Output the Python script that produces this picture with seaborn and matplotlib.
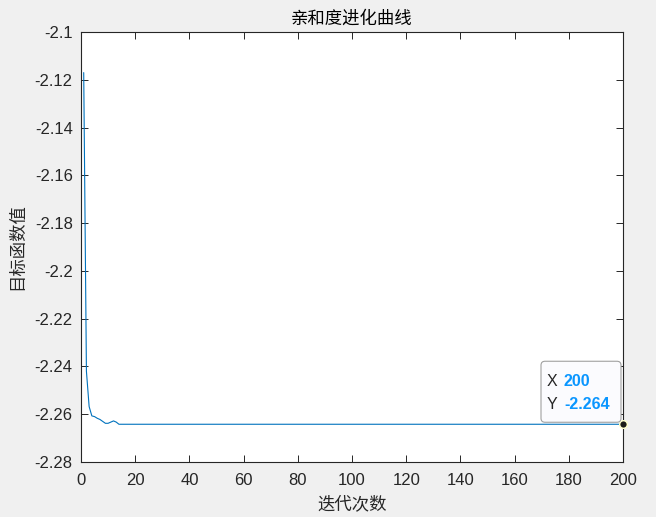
import numpy as np
import pandas as pd
import matplotlib
matplotlib.use("Agg")
import matplotlib.pyplot as plt
import seaborn as sns
from matplotlib.patches import FancyBboxPatch
from matplotlib.transforms import Affine2D

# steep early drop, then flat plateau
early_fitness = [-2.117, -2.242, -2.2568, -2.2607, -2.2610, -2.2617, -2.2622,
                 -2.2630, -2.2638, -2.2638, -2.2633, -2.2628, -2.2633, -2.2642]
plateau_value = -2.2642
n_iter = 200
fitness = early_fitness + [plateau_value] * (n_iter - len(early_fitness))
iterations = list(range(1, n_iter + 1))

x_ticks = list(range(0, 201, 20))
y_ticks = [-2.28, -2.26, -2.24, -2.22, -2.2, -2.18, -2.16, -2.14, -2.12, -2.1]

df = pd.DataFrame({"iter": iterations, "fitness": fitness})

sns.set_style("white")
plt.rcParams['font.family'] = ['Liberation Sans', 'Noto Sans CJK SC', 'DejaVu Sans']
plt.rcParams['axes.unicode_minus'] = False

fig = plt.figure(figsize=(6.56, 5.17), dpi=100, facecolor='#f0f0f0')
ax = fig.add_axes([81 / 656, 55 / 517, 542 / 656, 430 / 517])
ax.set_facecolor('white')

sns.lineplot(data=df, x="iter", y="fitness", ax=ax, color='#0072BD', linewidth=0.8)

ax.set_xlim(0, 200)
ax.set_ylim(-2.28, -2.1)
ax.set_xticks(x_ticks)
ax.set_yticks(y_ticks)
ax.set_yticklabels(['%g' % v for v in y_ticks])
ax.set_xticklabels([str(v) for v in x_ticks])

axis_col = '#262626'
for s in ax.spines.values():
    s.set_color(axis_col)
    s.set_linewidth(0.8)
ax.tick_params(direction='in', length=5, width=0.7, colors=axis_col,
               labelsize=12, top=True, right=True, bottom=True, left=True,
               labeltop=False, labelright=False)
ax.tick_params(axis='x', pad=8)
ax.tick_params(axis='y', pad=6)

cjk = ['Noto Sans CJK SC']
ax.set_title('亲和度进化曲线', fontsize=12.5, color='#000000',
             family=cjk, pad=6)
ax.set_xlabel('迭代次数', fontsize=12.5, color=axis_col,
              family=cjk, labelpad=5)
ax.set_ylabel('目标函数值', fontsize=12.5, color=axis_col,
              family=cjk, labelpad=6)

# data tip on the last point
last_x, last_y = iterations[-1], fitness[-1]
ax.plot([last_x], [last_y], marker='o', ms=5.5, mfc='#1a1a1a', mec='#ffffcc',
        mew=1.0, clip_on=False, zorder=5)

fig.canvas.draw()
px, py = ax.transData.transform((last_x, last_y))
tip_tf = Affine2D().translate(px, py)
box = FancyBboxPatch((-82, 2), 80, 61, boxstyle='round,pad=0,rounding_size=4',
                     transform=tip_tf, facecolor='#fbfbfe', edgecolor='#a0a0a0',
                     linewidth=0.8, clip_on=False, zorder=6)
ax.add_patch(box)

tip_kw = dict(xycoords='data', textcoords='offset pixels', va='center',
              ha='left', fontsize=11.5, zorder=7, annotation_clip=False)
ax.annotate('X', (last_x, last_y), xytext=(-76, 43), color=axis_col, **tip_kw)
ax.annotate(str(last_x), (last_x, last_y), xytext=(-59, 43), color='#0a96ff',
            fontweight='bold', **tip_kw)
ax.annotate('Y', (last_x, last_y), xytext=(-76, 20), color=axis_col, **tip_kw)
ax.annotate('%.3f' % last_y, (last_x, last_y), xytext=(-59, 20), color='#0a96ff',
            fontweight='bold', **tip_kw)

fig.savefig('out.png', dpi=100, facecolor=fig.get_facecolor())
